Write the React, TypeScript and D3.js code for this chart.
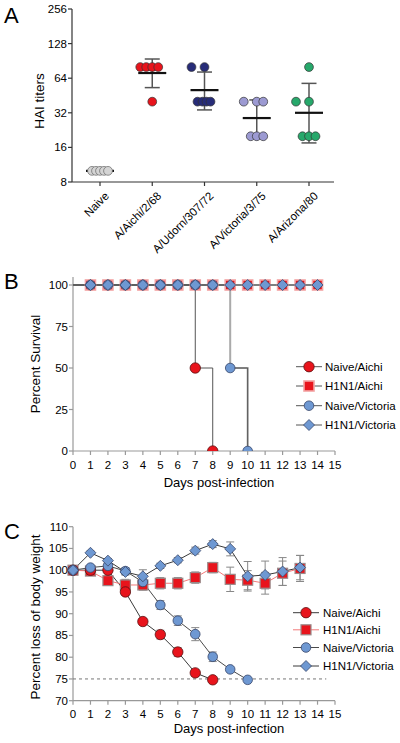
import React from 'react';
import * as d3 from 'd3';

// ---------- Panel A data ----------
const haiGroups = ['Naive', 'A/Aichi/2/68', 'A/Udorn/307/72', 'A/Victoria/3/75', 'A/Arizona/80'];
const haiColors = ['#d4d4d4', '#e8141c', '#272c78', '#9c9ad2', '#27a86b'];
const haiValues = [
  [10, 10, 10, 10, 10],
  [80, 80, 80, 80, 40],
  [80, 80, 40, 40, 40, 40],
  [40, 40, 40, 20, 20, 20],
  [80, 40, 40, 20, 20, 20],
];
const haiDotOffsets = [
  [-8, -4, 0, 4, 8],
  [-12, -6, 0, 6, 0],
  [-13, 0, -7, -2, 2, 6],
  [-13, 0, 6.5, -6, 0, 6.5],
  [0, -13, 0, -6.5, 0, 6.5],
];
const haiMean = [10, 71, 50.4, 28.8, 32];
const haiHigh = [10, 94, 72.4, 41.4, 57.7];
const haiLow = [10, 53, 33.9, 20, 17.5];
const haiTicks = [8, 16, 32, 64, 128, 256];

// ---------- Panel B data ----------
const days = d3.range(0, 16);
const survNaiveAichi = [100, 100, 100, 100, 100, 100, 100, 50, 0];
const survH1N1Aichi = [100, 100, 100, 100, 100, 100, 100, 100, 100, 100, 100, 100, 100, 100, 100];
const survNaiveVictoria = [100, 100, 100, 100, 100, 100, 100, 100, 100, 50, 0];
const survH1N1Victoria = [100, 100, 100, 100, 100, 100, 100, 100, 100, 100, 100, 100, 100, 100, 100];

// ---------- Panel C data ----------
const wtNaiveAichi = [100, 100, 100, 95.0, 88.2, 85.2, 81.2, 76.4, 74.8];
const errNaiveAichi = [0, 0.3, 0.4, 0.8, 0.6, 1.0, 1.0, 0.8, 0];
const wtH1N1Aichi = [100, 99.8, 97.6, 96.6, 96.6, 97.0, 97.0, 98.3, 100.6, 97.9, 97.7, 97.0, 99.3, 100.4];
const errH1N1Aichi = [0, 0.4, 0.8, 1.3, 1.2, 1.3, 1.3, 1.3, 1.2, 2.8, 2.2, 2.5, 2.8, 3.0];
const wtNaiveVictoria = [100, 100.6, 101.0, 99.8, 97.3, 92.0, 88.4, 85.3, 80.1, 77.2, 74.8];
const errNaiveVictoria = [0, 0.4, 0.6, 0.8, 1.5, 1.0, 1.1, 1.5, 1.1, 0.5, 0];
const wtH1N1Victoria = [100, 104.0, 102.2, 99.6, 98.6, 101.0, 102.3, 104.5, 106.0, 104.9, 98.6, 98.9, 99.7, 100.6];
const errH1N1Victoria = [0, 0.4, 0.5, 0.7, 1.5, 0.6, 0.6, 0.8, 0.8, 1.6, 3.4, 3.2, 3.2, 2.8];

const legendLabels = ['Naive/Aichi', 'H1N1/Aichi', 'Naive/Victoria', 'H1N1/Victoria'];

const RED = '#e8141c';
const BLUE = '#6e98d2';
const FONT = '"Liberation Sans", Arial, Helvetica, sans-serif';

const diamond = (r: number) => `M0,${-r}L${r},0L0,${r}L${-r},0Z`;

function Marker({ kind, x, y, variant }: { kind: number; x: number; y: number; variant: 'B' | 'C' }) {
  if (kind === 0) return <circle cx={x} cy={y} r={5.2} fill={RED} stroke="#5a1010" strokeWidth={0.8} />;
  if (kind === 1)
    return (
      <rect x={x - 5} y={y - 5} width={10} height={10} fill={RED}
        stroke={variant === 'B' ? '#f3a3a3' : '#9a8a8a'} strokeWidth={variant === 'B' ? 1.6 : 1.2} />
    );
  if (kind === 2) return <circle cx={x} cy={y} r={4.8} fill={BLUE} stroke="#39466a" strokeWidth={0.8} />;
  return <path d={diamond(5.5)} transform={`translate(${x},${y})`} fill={BLUE} stroke="#39466a" strokeWidth={0.8} />;
}

export default function App() {
  // ---- Panel A scales ----
  const yA = d3.scaleLog().base(2).domain([8, 256]).range([182, 9]);
  const xA = d3.scaleLinear().domain([0, 4]).range([100, 309]);
  const axALeft = 72;
  const axARight = 334;

  // ---- Panel B scales ----
  const xB = d3.scaleLinear().domain([0, 15]).range([73, 335]);
  const yB = d3.scaleLinear().domain([0, 100]).range([451, 285]);
  // ---- Panel C scales ----
  const xC = xB;
  const yC = d3.scaleLinear().domain([70, 110]).range([700.7, 526.7]);

  const stepLine = (vals: number[], start = 0) =>
    d3.line<number>().x((_, i) => xB(i + start)).y((v) => yB(v)).curve(d3.curveStepAfter)(vals) || '';
  const wLine = (vals: number[]) => d3.line<number>().x((_, i) => xC(i)).y((v) => yC(v))(vals) || '';

  const survSeries = [survNaiveAichi, survH1N1Aichi, survNaiveVictoria, survH1N1Victoria];
  const wtSeries = [wtNaiveAichi, wtH1N1Aichi, wtNaiveVictoria, wtH1N1Victoria];
  const wtErr = [errNaiveAichi, errH1N1Aichi, errNaiveVictoria, errH1N1Victoria];
  const wtLineColor = ['#3a3a3a', '#f27a7a', '#4a4a4a', '#3a3a3a'];

  const tickFont = 11.5;
  const legFont = 11.5;

  return (
    <svg width={400} height={743} style={{ position: 'absolute', left: 0, top: 0, background: '#fff' }}
      fontFamily={FONT}>
      <defs>
        <clipPath id="clipB">
          <rect x={60} y={270} width={300} height={181} />
        </clipPath>
      </defs>

      {/* ================= Panel A ================= */}
      <text x={4} y={23} fontSize={22}>A</text>
      <text transform={`translate(44,101) rotate(-90)`} textAnchor="middle" fontSize={13.5}>HAI titers</text>
      <line x1={axALeft} x2={axALeft} y1={yA(256)} y2={yA(8)} stroke="#333" strokeWidth={1.2} />
      <line x1={axALeft} x2={axARight} y1={yA(8)} y2={yA(8)} stroke="#333" strokeWidth={1.2} />
      {haiTicks.map((t) => (
        <g key={t}>
          <line x1={axALeft - 4} x2={axALeft} y1={yA(t)} y2={yA(t)} stroke="#333" strokeWidth={1.2} />
          <text x={axALeft - 5} y={yA(t)} dy="0.35em" textAnchor="end" fontSize={tickFont}>{t}</text>
        </g>
      ))}
      {haiGroups.map((g, i) => (
        <g key={g}>
          <line x1={xA(i)} x2={xA(i)} y1={yA(8)} y2={yA(8) + 4} stroke="#333" strokeWidth={1.2} />
          <text transform={`translate(${xA(i) + 4},${yA(8) + 9}) rotate(-45)`} textAnchor="end"
            dy="0.7em" fontSize={tickFont}>{g}</text>
        </g>
      ))}
      {haiGroups.map((g, i) => (
        <g key={'m' + g}>
          <line x1={xA(i)} x2={xA(i)} y1={yA(haiHigh[i])} y2={yA(haiLow[i])} stroke="#555" strokeWidth={1.5} />
          <line x1={xA(i) - 7.5} x2={xA(i) + 7.5} y1={yA(haiHigh[i])} y2={yA(haiHigh[i])} stroke="#555" strokeWidth={1.5} />
          <line x1={xA(i) - 7.5} x2={xA(i) + 7.5} y1={yA(haiLow[i])} y2={yA(haiLow[i])} stroke="#555" strokeWidth={1.5} />
          <line x1={xA(i) - 14} x2={xA(i) + 14} y1={yA(haiMean[i])} y2={yA(haiMean[i])} stroke="#111" strokeWidth={2.2} />
          {haiValues[i].map((v, j) => (
            <circle key={j} cx={xA(i) + haiDotOffsets[i][j]} cy={yA(v)} r={4.4}
              fill={haiColors[i]} stroke={i === 0 ? '#666' : '#333'} strokeWidth={0.7} />
          ))}
        </g>
      ))}

      {/* ================= Panel B ================= */}
      <text x={4} y={289} fontSize={22}>B</text>
      <text transform={`translate(40,364) rotate(-90)`} textAnchor="middle" fontSize={13.5}>Percent Survival</text>
      <line x1={xB(0)} x2={xB(0)} y1={yB(100) - 8} y2={yB(0)} stroke="#999" strokeWidth={1.2} />
      <line x1={xB(0)} x2={xB(15)} y1={yB(0)} y2={yB(0)} stroke="#999" strokeWidth={1.2} />
      {[0, 25, 50, 75, 100].map((t) => (
        <g key={t}>
          <line x1={xB(0) - 4} x2={xB(0)} y1={yB(t)} y2={yB(t)} stroke="#999" strokeWidth={1.2} />
          <text x={xB(0) - 5} y={yB(t)} dy="0.35em" textAnchor="end" fontSize={tickFont}>{t}</text>
        </g>
      ))}
      {days.map((d) => (
        <g key={d}>
          <line x1={xB(d)} x2={xB(d)} y1={yB(0)} y2={yB(0) + 4} stroke="#999" strokeWidth={1.2} />
          <text x={xB(d)} y={yB(0) + 18} textAnchor="middle" fontSize={tickFont}>{d}</text>
        </g>
      ))}
      <text x={219} y={487} textAnchor="middle" fontSize={13}>Days post-infection</text>
      <g clipPath="url(#clipB)">
        <path d={stepLine(survNaiveVictoria)} fill="none" stroke="#aaa" strokeWidth={2} />
        <path d={stepLine(survNaiveVictoria.slice(9), 9)} fill="none" stroke="#555" strokeWidth={1} />
        <path d={stepLine(survNaiveAichi)} fill="none" stroke="#555" strokeWidth={1} />
        <path d={stepLine(survH1N1Aichi)} fill="none" stroke="#555" strokeWidth={1} />
        <path d={stepLine(survH1N1Victoria)} fill="none" stroke="#555" strokeWidth={1} />
        {survSeries.map((s, k) =>
          s.map((v, i) => (i === 0 ? null : <Marker key={k + '-' + i} kind={k} x={xB(i)} y={yB(v)} variant="B" />))
        )}
      </g>
      {legendLabels.map((l, k) => {
        const ys = [366.7, 386, 405.7, 425];
        return (
          <g key={l}>
            <line x1={296} x2={322} y1={ys[k]} y2={ys[k]} stroke="#555" strokeWidth={1} />
            <Marker kind={k} x={309} y={ys[k]} variant="B" />
            <text x={325} y={ys[k]} dy="0.35em" fontSize={legFont}>{l}</text>
          </g>
        );
      })}

      {/* ================= Panel C ================= */}
      <text x={4} y={539} fontSize={22}>C</text>
      <text transform={`translate(40,617) rotate(-90)`} textAnchor="middle" fontSize={13.5}>Percent loss of body weight</text>
      <line x1={xC(0)} x2={xC(0)} y1={yC(110)} y2={yC(70)} stroke="#999" strokeWidth={1.2} />
      <line x1={xC(0)} x2={xC(15)} y1={yC(70)} y2={yC(70)} stroke="#999" strokeWidth={1.2} />
      {d3.range(70, 111, 5).map((t) => (
        <g key={t}>
          <line x1={xC(0) - 4} x2={xC(0)} y1={yC(t)} y2={yC(t)} stroke="#999" strokeWidth={1.2} />
          <text x={xC(0) - 5} y={yC(t)} dy="0.35em" textAnchor="end" fontSize={tickFont}>{t}</text>
        </g>
      ))}
      {days.map((d) => (
        <g key={d}>
          <line x1={xC(d)} x2={xC(d)} y1={yC(70)} y2={yC(70) + 4} stroke="#999" strokeWidth={1.2} />
          <text x={xC(d)} y={yC(70) + 17.5} textAnchor="middle" fontSize={tickFont}>{d}</text>
        </g>
      ))}
      <text x={229} y={733} textAnchor="middle" fontSize={13}>Days post-infection</text>
      <line x1={xC(0)} x2={xC(14.5)} y1={yC(75)} y2={yC(75)} stroke="#777" strokeWidth={1} strokeDasharray="3,3" />
      {wtSeries.map((s, k) => (
        <g key={'err' + k}>
          {s.map((v, i) =>
            wtErr[k][i] > 0.25 ? (
              <g key={i}>
                <line x1={xC(i)} x2={xC(i)} y1={yC(v + wtErr[k][i])} y2={yC(v - wtErr[k][i])} stroke="#888" strokeWidth={1} />
                <line x1={xC(i) - 4} x2={xC(i) + 4} y1={yC(v + wtErr[k][i])} y2={yC(v + wtErr[k][i])} stroke="#888" strokeWidth={1} />
                <line x1={xC(i) - 4} x2={xC(i) + 4} y1={yC(v - wtErr[k][i])} y2={yC(v - wtErr[k][i])} stroke="#888" strokeWidth={1} />
              </g>
            ) : null
          )}
        </g>
      ))}
      {wtSeries.map((s, k) => (
        <path key={'l' + k} d={wLine(s)} fill="none" stroke={wtLineColor[k]} strokeWidth={1} />
      ))}
      {[1, 0, 2, 3].map((k) =>
        wtSeries[k].map((v, i) => <Marker key={k + '_' + i} kind={k} x={xC(i)} y={yC(v)} variant="C" />)
      )}
      {legendLabels.map((l, k) => {
        const ys = [612.7, 629.8, 647.5, 666];
        return (
          <g key={'lc' + l}>
            <line x1={293} x2={319} y1={ys[k]} y2={ys[k]} stroke={wtLineColor[k]} strokeWidth={1} />
            <Marker kind={k} x={306} y={ys[k]} variant="C" />
            <text x={323} y={ys[k]} dy="0.35em" fontSize={legFont}>{l}</text>
          </g>
        );
      })}
    </svg>
  );
}
